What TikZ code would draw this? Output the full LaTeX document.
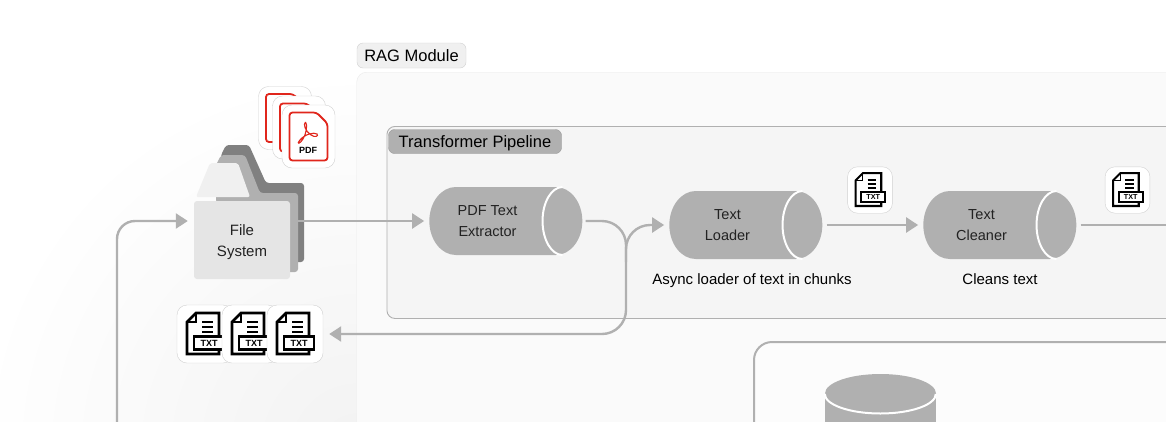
\documentclass[tikz,border=0pt]{standalone}
\usepackage{fontspec}
\setmainfont{Liberation Sans}
\usetikzlibrary{arrows.meta,calc,shapes.geometric}
\definecolor{flowgray}{HTML}{B0B0B0}
\definecolor{inkgray}{HTML}{222222}
\definecolor{pdfred}{HTML}{E0261C}
\tikzset{
  flow/.style={draw=flowgray, line width=2.4pt, -{Triangle[length=12pt,width=15pt]}},
  pipe/.style={cylinder, fill=flowgray, text=inkgray, align=center, font=\fontsize{14.5}{21}\selectfont,
    minimum width=68pt, minimum height=153pt, aspect=1.7, inner sep=0pt},
  rim/.style={draw=white, line width=2pt},
  caption/.style={text=black, font=\fontsize{15}{18}\selectfont, text height=11pt, text depth=3pt},
  tagbox/.style={rounded corners=6pt, font=\fontsize{16.5}{20}\selectfont, text=black, inner sep=0pt, text height=14pt, text depth=2pt},
  card/.style={draw=black!18, fill=white, rounded corners=10pt, inner sep=0pt},
}
\newcommand{\pad}{\hspace*{10pt}}
% card with a txt file icon: name, x, y, size factor
\newcommand{\txtcard}[4]{
  \node[card, minimum width=#4*56pt, minimum height=#4*58pt] (#1) at (#2,#3) {};
  \pgfmathsetmacro{\txtsize}{#4*9}
  \begin{scope}[shift={(#2,#3)}, scale=#4, line width=#4*2.6pt, line join=miter]
    \draw (14,9) -- (14,-21) -- (-9,-21) -- (-18,-12) -- (-18,20) -- (14,20) -- (14,9);
    \draw[line width=#4*1.6pt] (-9,-21) -- (-9,-12) -- (-18,-12);
    \draw (-3,-12) -- (8,-12) (-3,-7) -- (8,-7) (-3,-2) -- (8,-2);
    \node[draw=black, fill=white, line width=#4*2.4pt, minimum width=#4*30pt, minimum height=#4*13pt, inner sep=0pt,
      font=\bfseries\fontsize{\txtsize}{\txtsize}\selectfont] (#1txt) at (4,9) {TXT};
  \end{scope}
}
% card with a pdf file icon
\newcommand{\pdfcard}[3]{
  \node[card, minimum width=53pt, minimum height=63pt] (#1) at (#2,#3) {};
  \draw[pdfred, line width=1.8pt, rounded corners=3pt] (#2-19,#3-24) -- (#2+8,#3-24) -- (#2+19,#3-13) -- (#2+19,#3+24) -- (#2-19,#3+24) -- cycle;
}
\begin{document}
\begin{tikzpicture}[x=1pt,y=-1pt]
\clip (0,0) rectangle (1166,421);
\fill[white] (0,0) rectangle (1166,421);

% soft shade left of the module
\begin{scope}
\clip (0,0) rectangle (357,421);
\shade[inner color=black!5, outer color=white] (357,450) circle (380);
\end{scope}

% boxes
\node[draw=black!8, fill=black!2, rounded corners=10pt, minimum width=900pt, minimum height=500pt, anchor=north west, inner sep=0pt] (ragbox) at (356.5,72) {};
\node[tagbox, draw=black!18, fill=black!6, minimum width=109pt, minimum height=25pt] (ragtag) at (411.5,55.5) {RAG Module};
\node[draw=flowgray, fill=black!4, rounded corners=8pt, line width=0.9pt, minimum width=900pt, minimum height=192pt, anchor=north west, inner sep=0pt] (tfbox) at (386.5,126) {};
\node[tagbox, draw=black!40, fill=flowgray, minimum width=173pt, minimum height=24pt] (tftag) at (475,141.5) {Transformer Pipeline};
\node[draw=flowgray, line width=2pt, fill=black!1, rounded corners=18pt, minimum width=600pt, minimum height=300pt, anchor=north west, inner sep=0pt] (dbbox) at (753,341) {};

% folder
\fill[black!50, rounded corners=3pt] (221,155) -- (226,145) -- (249,145) -- (266,183) -- (304,183) -- (304,262) -- (250,262) -- (221,200) -- cycle;
\fill[flowgray, rounded corners=3pt] (216,165) -- (221,155) -- (245,155) -- (260,193) -- (298,193) -- (298,272) -- (230,272) -- (216,200) -- cycle;
\fill[black!6, rounded corners=2pt] (196,197) -- (210,163) -- (238,163) -- (250,197) -- cycle;
\node[fill=black!10, rounded corners=3pt, minimum width=96pt, minimum height=78pt, align=center, text=inkgray, inner sep=0pt,
  font=\fontsize{15}{21}\selectfont] (fs) at (242,240) {\rule{0pt}{15pt}File\\System};

% pdf cards
\pdfcard{pdfa}{285}{118}
\pdfcard{pdfb}{299}{127.5}
\pdfcard{pdfc}{308.5}{136.5}
\draw[pdfred, line width=1.1pt] (305.5,122) .. controls (303,124) and (305,131) .. (311,135) .. controls (315,138) and (319,136) .. (317,134) .. controls (314,132) and (305,134) .. (300,140) .. controls (296,145) and (300,144) .. (303,139) .. controls (306,134) and (308,125) .. (305.5,122);
\node[text=black, font=\bfseries\fontsize{9}{9}\selectfont, inner sep=0pt] (pdflabel) at (308,150.5) {PDF};

% txt cards
\txtcard{txta}{205}{334}{1}
\txtcard{txtb}{250}{334}{1}
\txtcard{txtc}{295}{334}{1}
\txtcard{txtd}{870}{190}{0.8}
\txtcard{txte}{1127.5}{190}{0.8}

% pipeline
\node[pipe] (pdfext) at (492.5,221) {PDF Text\pad\\Extractor\pad};
\node[pipe] (txtload) at (732.5,225) {Text\pad\\Loader\pad};
\node[pipe] (txtclean) at (986.5,225) {Text\pad\\Cleaner\pad};
\foreach \n in {pdfext,txtload,txtclean}
  \draw[rim] ($(\n.top)+(-20,34)$) arc[start angle=90,end angle=270,x radius=20,y radius=34];

\node[caption] (loadcap) at (752,280) {Async loader of text in chunks};
\node[caption] (cleancap) at (1000,280) {Cleans text};

% database
\node[ellipse, fill=flowgray, minimum width=111pt, minimum height=39pt, inner sep=0pt] (vecdb) at (880.5,393.5) {};
\fill[flowgray] (vecdb.west) rectangle (936,430);
\draw[rim] (vecdb.west) ++(0,0.5) arc[start angle=180,end angle=0,x radius=55.5,y radius=19.5];

% connectors
\coordinate (fsin) at (117,430);
\coordinate (fsout) at (298,221);
\coordinate (loopdown) at (626,334);
\coordinate (loopup) at (626,262);
\coordinate (nextstep) at (1178,225);
\draw[flow, rounded corners=18pt, shorten >=6pt] (fsin) |- (fs.west |- fsout);
\draw[flow, shorten >=5pt] (fsout) -- (pdfext.bottom);
\draw[flow, rounded corners=24pt, shorten <=3pt, shorten >=6pt] (pdfext.top) -| (loopdown) -- (txtc.east);
\draw[flow, rounded corners=24pt, shorten >=5pt] (loopup) |- (txtload.bottom);
\draw[flow, shorten <=4pt, shorten >=5pt] (txtload.top) -- (txtclean.bottom);
\draw[flow, shorten <=4pt] (txtclean.top) -- (nextstep);

\end{tikzpicture}
\end{document}
